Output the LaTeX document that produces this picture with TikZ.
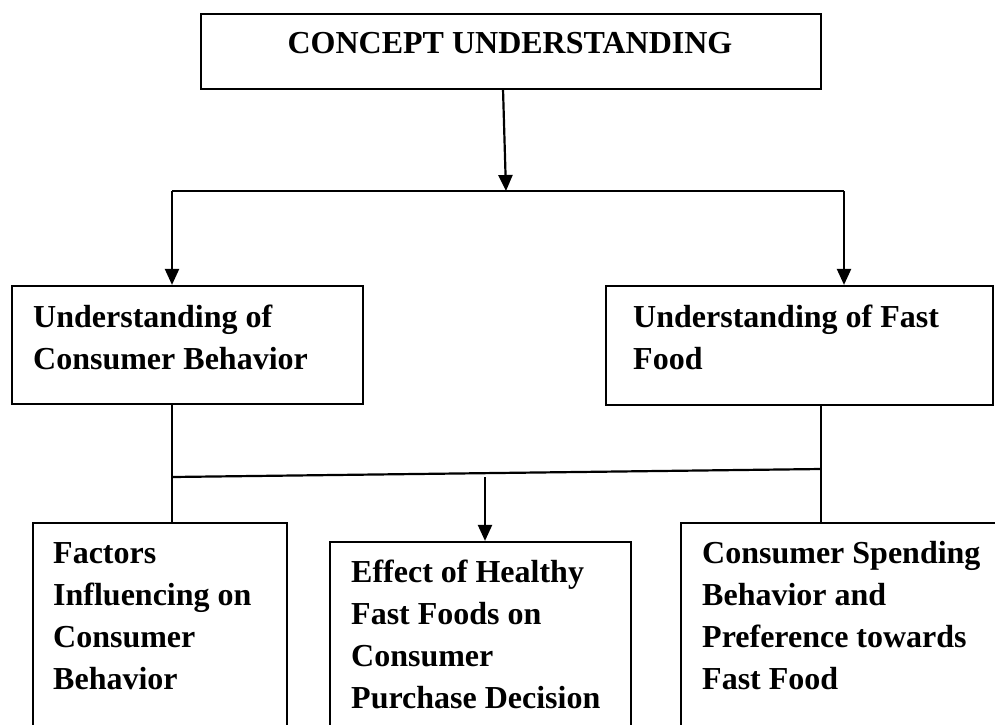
\documentclass[tikz,border=0pt]{standalone}
\usepackage{fontspec}
\setmainfont{Liberation Serif}
\usetikzlibrary{arrows.meta}
\begin{document}
\begin{tikzpicture}[x=1pt,y=-1pt,
  box/.style={draw, line width=2.2pt, inner sep=0pt},
  txt/.style={anchor=base west, inner sep=0pt, font=\fontsize{32}{42}\selectfont\bfseries},
  conn/.style={line width=2.2pt},
  arr/.style={line width=2.2pt, -{Triangle[width=14pt,length=16pt]}}]
\useasboundingbox (0,0) rectangle (995,724);
\fill[white] (0,0) rectangle (995,724);
\clip (0,0) rectangle (995,724);
% boxes
\node[box, line width=2.8pt, minimum width=620pt, minimum height=75pt] (top) at (511,51.5) {};
\node[box, minimum width=351pt, minimum height=118pt] (lcb) at (187.5,345) {};
\node[box, minimum width=387pt, minimum height=119pt] (uff) at (799.5,345.5) {};
\node[box, minimum width=254pt, minimum height=237pt] (fic) at (160,641.5) {};
\node[box, minimum width=301pt, minimum height=218pt] (ehf) at (480.5,651) {};
\node[box, minimum width=339pt, minimum height=237pt] (csb) at (850.5,641.5) {};
% texts
\node[txt, anchor=base] (ttop) at (510,53) {CONCEPT UNDERSTANDING};
\node[txt] (tlcb) at (33,327) {\begin{tabular}[t]{@{}l@{}}Understanding of\\Consumer Behavior\end{tabular}};
\node[txt] (tuff) at (633,327) {\begin{tabular}[t]{@{}l@{}}Understanding of Fast\\Food\end{tabular}};
\node[txt] (tfic) at (53,563) {\begin{tabular}[t]{@{}l@{}}Factors\\Influencing on\\Consumer\\Behavior\end{tabular}};
\node[txt] (tehf) at (351,582) {\begin{tabular}[t]{@{}l@{}}Effect of Healthy\\Fast Foods on\\Consumer\\Purchase Decision\end{tabular}};
\node[txt] (tcsb) at (702,563) {\begin{tabular}[t]{@{}l@{}}Consumer Spending\\Behavior and\\Preference towards\\Fast Food\end{tabular}};
% junction coordinates
\coordinate (s0) at (503,89);
\coordinate (e0) at (506,191);
\coordinate (hl) at (172,191);
\coordinate (hr) at (844,191);
\coordinate (bl) at (172,477);
\coordinate (br) at (821,469);
\coordinate (ms) at (485,477);
% connectors
\draw[arr] (s0) -- (e0);
\draw[conn] (hl) -- (hr);
\draw[arr] (hl) -- (hl |- lcb.north);
\draw[arr] (hr) -- (hr |- uff.north);
\draw[conn] (hl |- lcb.south) -- (hl |- fic.north);
\draw[conn] (br |- uff.south) -- (br |- csb.north);
\draw[conn] (bl) -- (br);
\draw[arr] (ms) -- (ms |- ehf.north);
\end{tikzpicture}
\end{document}
